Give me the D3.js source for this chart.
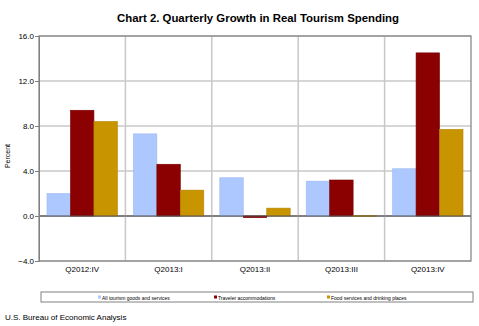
<!DOCTYPE html>
<html>
<head>
<meta charset="utf-8">
<script src="https://cdn.jsdelivr.net/npm/d3@7"></script>
<style>
  body { margin: 0; background: #fff; }
  svg { font-family: "Liberation Sans", Arial, sans-serif; }
</style>
</head>
<body>
<div id="chart"></div>
<script>
// data
var quarters = ["Q2012:IV", "Q2013:I", "Q2013:II", "Q2013:III", "Q2013:IV"];
var seriesNames = ["All tourism goods and services", "Traveler accommodations", "Food services and drinking places"];
var allTourism = [2.0, 7.3, 3.4, 3.1, 4.2];
var traveler = [9.4, 4.6, -0.15, 3.2, 14.5];
var foodServices = [8.4, 2.3, 0.7, 0.05, 7.7];
var yTicks = [-4, 0, 4, 8, 12, 16];
var colors = ["#adc8ff", "#8b0000", "#c89400"];
var strokes = ["#9db8f0", "#7a0000", "#b88400"];

var W = 479, H = 326;
var margin = { top: 36, right: 8, bottom: 65, left: 39 },
    width = W - margin.left - margin.right,
    height = H - margin.top - margin.bottom;

var svg = d3.select("#chart").append("svg")
    .attr("width", W)
    .attr("height", H);

svg.append("text")
    .attr("x", 258)
    .attr("y", 22)
    .attr("text-anchor", "middle")
    .style("font-size", "11.4px")
    .style("font-weight", "bold")
    .text("Chart 2. Quarterly Growth in Real Tourism Spending");

var g = svg.append("g")
    .attr("transform", "translate(" + margin.left + "," + margin.top + ")");

var x0 = d3.scaleBand().domain(quarters).range([0, width]).paddingInner(0).paddingOuter(0);
var x1 = d3.scaleBand().domain(d3.range(3)).range([8, x0.bandwidth() - 8]);
var y = d3.scaleLinear().domain([-4, 16]).range([height, 0]);

// horizontal grid
g.selectAll(".hgrid").data(yTicks).enter().append("line")
    .attr("x1", 0).attr("x2", width)
    .attr("y1", function(d) { return y(d); })
    .attr("y2", function(d) { return y(d); })
    .attr("stroke", function(d) { return d === 0 ? "#555" : "#c8c8c8"; })
    .attr("stroke-width", function(d) { return d === 0 ? 1 : 1.5; });

// vertical grid between quarters
g.selectAll(".vgrid").data(quarters.slice(1)).enter().append("line")
    .attr("x1", function(d) { return x0(d); })
    .attr("x2", function(d) { return x0(d); })
    .attr("y1", 0).attr("y2", height)
    .attr("stroke", "#c8c8c8")
    .attr("stroke-width", 1.5);

var rows = [];
quarters.forEach(function(q, i) {
    [allTourism, traveler, foodServices].forEach(function(s, j) {
        rows.push({ q: q, k: j, v: s[i] });
    });
});

g.selectAll(".bar").data(rows).enter().append("rect")
    .attr("x", function(d) { return x0(d.q) + x1(d.k); })
    .attr("width", x1.bandwidth())
    .attr("y", function(d) { return y(Math.max(0, d.v)); })
    .attr("height", function(d) { return Math.max(1, Math.abs(y(d.v) - y(0))); })
    .attr("fill", function(d) { return colors[d.k]; })
    .attr("stroke", function(d) { return strokes[d.k]; })
    .attr("stroke-width", 0.6);

// zero line on top
g.append("line")
    .attr("x1", 0).attr("x2", width)
    .attr("y1", y(0)).attr("y2", y(0))
    .attr("stroke", "#555");

// frame
g.append("rect")
    .attr("width", width).attr("height", height)
    .attr("fill", "none")
    .attr("stroke", "#808080")
    .attr("stroke-width", 1.2);

// y axis
var yAxis = g.append("g")
    .call(d3.axisLeft(y).tickValues(yTicks).tickFormat(d3.format(".1f")).tickSize(4));
yAxis.select(".domain").attr("stroke", "#808080");
yAxis.selectAll("line").attr("stroke", "#808080");
yAxis.selectAll("text").style("font-size", "8px").attr("fill", "#000").attr("x", -5);

// x axis
var xAxis = g.append("g")
    .attr("transform", "translate(0," + height + ")")
    .call(d3.axisBottom(x0).tickSize(0));
xAxis.select(".domain").remove();
xAxis.selectAll("text").style("font-size", "8px").attr("fill", "#000").attr("dy", "1.0em");

svg.append("text")
    .attr("transform", "translate(10,156) rotate(-90)")
    .attr("text-anchor", "middle")
    .style("font-size", "7px")
    .text("Percent");

// legend
var lg = svg.append("g");
lg.append("rect")
    .attr("x", 41).attr("y", 292).attr("width", 432).attr("height", 10)
    .attr("fill", "#fff").attr("stroke", "#808080");
var legendX = [98, 214, 327];
seriesNames.forEach(function(n, i) {
    lg.append("rect")
        .attr("x", legendX[i]).attr("y", 295.5).attr("width", 3).attr("height", 3)
        .attr("fill", colors[i]);
    lg.append("text")
        .attr("x", legendX[i] + 4).attr("y", 299.5)
        .style("font-size", "5px")
        .text(n);
});

svg.append("text")
    .attr("x", 5).attr("y", 320)
    .style("font-size", "8px")
    .text("U.S. Bureau of Economic Analysis");
</script>
</body>
</html>
